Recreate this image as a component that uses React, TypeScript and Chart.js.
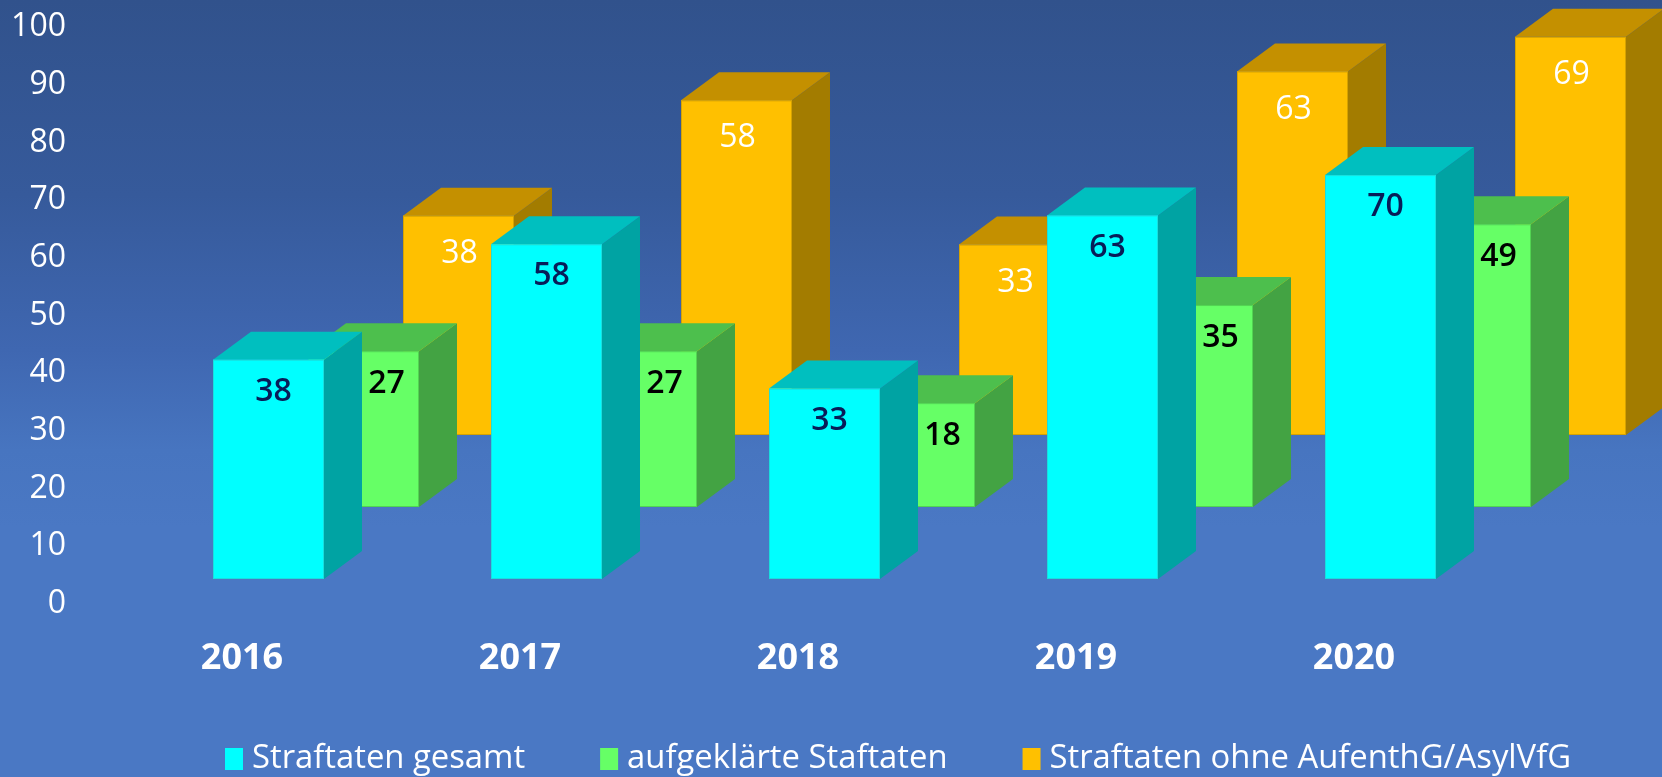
import React, { useEffect, useRef } from "react";
import { Chart, registerables } from "chart.js";

Chart.register(...registerables);

// ---- data ----
const categories = ["2016", "2017", "2018", "2019", "2020"];
const straftatenGesamt = [38, 58, 33, 63, 70];
const aufgeklaerteStaftaten = [27, 27, 18, 35, 49];
const straftatenOhneAufenthG = [38, 58, 33, 63, 69];
const seriesLabels = [
  "Straftaten gesamt",
  "aufgeklärte Staftaten",
  "Straftaten ohne AufenthG/AsylVfG",
];
const yTickValues = [0, 10, 20, 30, 40, 50, 60, 70, 80, 90, 100];

// ---- styles ----
const FONT = '"Open Sans", "Noto Sans", sans-serif';
const STYLES = [
  { front: "#00ffff", top: "#00bfbf", side: "#00a3a3", edge: "#19dede", label: "#081d58", weight: "600", dx: -29, dy: -25, lx: 5, ly: 32 },
  { front: "#66ff66", top: "#4dbf4d", side: "#43a343", edge: "#52d452", label: "#000000", weight: "600", dx: 66, dy: -97, lx: 23, ly: 33 },
  { front: "#ffc000", top: "#c49000", side: "#a37c00", edge: "#d6a200", label: "#ffffff", weight: "normal", dx: 161, dy: -169, lx: 1, ly: 38 },
];
const BAR_W = 111;
const DEPTH_X = 38;
const DEPTH_Y = 28;

const backgroundPlugin = {
  id: "bg",
  beforeDraw(chart: any) {
    const { ctx, width, height } = chart;
    const g = ctx.createLinearGradient(0, 0, 0, height);
    g.addColorStop(0, "#31528c");
    g.addColorStop(0.25, "#365a9b");
    g.addColorStop(0.45, "#3f67b1");
    g.addColorStop(0.58, "#4775c0");
    g.addColorStop(0.68, "#4a78c4");
    g.addColorStop(1, "#4a78c4");
    ctx.save();
    ctx.fillStyle = g;
    ctx.fillRect(0, 0, width, height);
    ctx.restore();
  },
};

const bars3dPlugin = {
  id: "bars3d",
  afterDatasetsDraw(chart: any) {
    const { ctx } = chart;
    const xs = chart.scales.x;
    const ys = chart.scales.y;
    const order = [2, 1, 0];
    ctx.save();
    ctx.lineWidth = 1;
    for (const d of order) {
      const st = STYLES[d];
      const data = chart.data.datasets[d].data as number[];
      data.forEach((v, i) => {
        const cx = xs.getPixelForValue(i);
        const left = cx + st.dx;
        const right = left + BAR_W;
        const base = ys.getPixelForValue(0) + st.dy;
        const top = ys.getPixelForValue(v) + st.dy;
        // side face
        ctx.beginPath();
        ctx.moveTo(right, top);
        ctx.lineTo(right + DEPTH_X, top - DEPTH_Y);
        ctx.lineTo(right + DEPTH_X, base - DEPTH_Y);
        ctx.lineTo(right, base);
        ctx.closePath();
        ctx.fillStyle = st.side;
        ctx.fill();
        // top face
        ctx.beginPath();
        ctx.moveTo(left, top);
        ctx.lineTo(left + DEPTH_X, top - DEPTH_Y);
        ctx.lineTo(right + DEPTH_X, top - DEPTH_Y);
        ctx.lineTo(right, top);
        ctx.closePath();
        ctx.fillStyle = st.top;
        ctx.fill();
        // front face
        ctx.fillStyle = st.front;
        ctx.fillRect(left, top, BAR_W, base - top);
        ctx.strokeStyle = st.edge;
        ctx.strokeRect(left + 0.5, top + 0.5, BAR_W - 1, base - top - 1);
      });
      // labels
      ctx.fillStyle = st.label;
      ctx.font = `${st.weight} 32px ${FONT}`;
      ctx.textAlign = "center";
      ctx.textBaseline = "middle";
      data.forEach((v, i) => {
        const cx = xs.getPixelForValue(i);
        const left = cx + st.dx;
        const top = ys.getPixelForValue(v) + st.dy;
        ctx.fillText(String(v), left + BAR_W / 2 + st.lx, top + st.ly);
      });
    }
    ctx.restore();
  },
};

const legendPlugin = {
  id: "legendCustom",
  afterDraw(chart: any) {
    const { ctx } = chart;
    ctx.save();
    ctx.font = `32.8px ${FONT}`;
    ctx.textBaseline = "middle";
    ctx.textAlign = "left";
    const yMid = chart.height - 18;
    let xPos = 225;
    chart.data.datasets.forEach((ds: any, d: number) => {
      ctx.fillStyle = STYLES[d].front;
      ctx.fillRect(xPos, yMid - 11, 18, 22);
      ctx.fillStyle = "#ffffff";
      ctx.fillText(ds.label, xPos + 27, yMid);
      xPos += 27 + ctx.measureText(ds.label).width + 75;
    });
    ctx.restore();
  },
};

export default function App() {
  const canvasRef = useRef<HTMLCanvasElement | null>(null);

  useEffect(() => {
    document.body.style.margin = "0";
    const canvas = canvasRef.current;
    if (!canvas) return;
    const chart = new Chart(canvas, {
      type: "bar",
      data: {
        labels: categories,
        datasets: [
          { label: seriesLabels[0], data: straftatenGesamt, backgroundColor: "rgba(0,0,0,0)" },
          { label: seriesLabels[1], data: aufgeklaerteStaftaten, backgroundColor: "rgba(0,0,0,0)" },
          { label: seriesLabels[2], data: straftatenOhneAufenthG, backgroundColor: "rgba(0,0,0,0)" },
        ],
      },
      options: {
        animation: false,
        responsive: false,
        maintainAspectRatio: false,
        devicePixelRatio: 1,
        layout: { padding: { left: 0, right: 169, top: 27, bottom: 97 } },
        plugins: {
          legend: { display: false },
          tooltip: { enabled: false },
        },
        scales: {
          x: {
            offset: true,
            grid: { display: false, drawTicks: false },
            border: { display: false },
            afterFit: (scale: any) => {
              scale.height = 76;
            },
            ticks: {
              color: "#ffffff",
              font: { family: FONT, size: 36, weight: "bold" },
              padding: 33,
              maxRotation: 0,
            },
          },
          y: {
            min: 0,
            max: 100,
            grid: { display: false, drawTicks: false },
            border: { display: false },
            afterBuildTicks: (scale: any) => {
              scale.ticks = yTickValues.map((v) => ({ value: v }));
            },
            afterFit: (scale: any) => {
              scale.width = 103;
              scale.paddingTop = 0;
              scale.paddingBottom = 0;
            },
            ticks: {
              color: "#ffffff",
              font: { family: FONT, size: 32 },
              padding: 37,
            },
          },
        },
      },
      plugins: [backgroundPlugin, bars3dPlugin, legendPlugin],
    });
    return () => chart.destroy();
  }, []);

  return (
    <div style={{ width: 1662, height: 777 }}>
      <canvas ref={canvasRef} width={1662} height={777} style={{ display: "block" }} />
    </div>
  );
}
